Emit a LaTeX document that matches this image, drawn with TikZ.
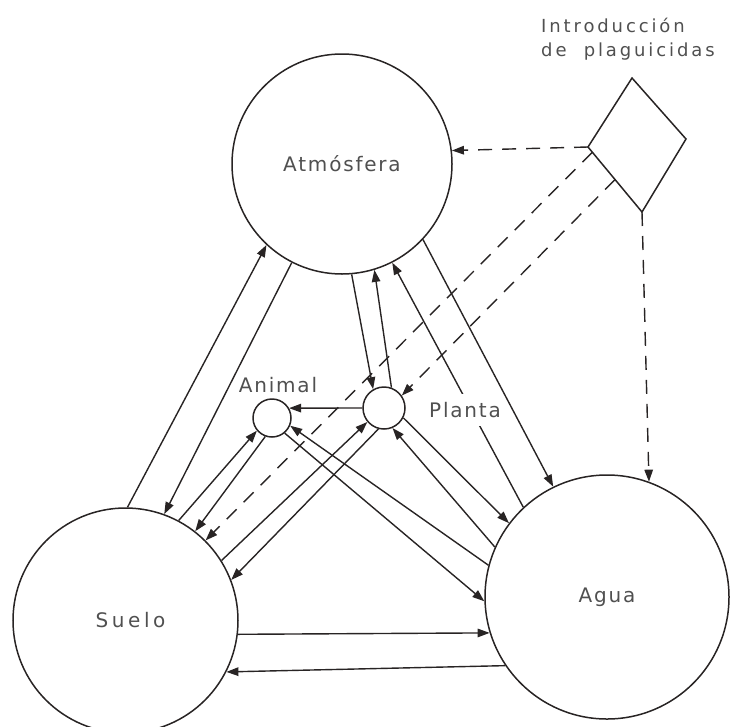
\documentclass[tikz,border=0pt]{standalone}
\usepackage{fontspec}
\setmainfont{DejaVu Sans}
\newfontfamily\lblfont{DejaVu Sans}[LetterSpace=9]
\newfontfamily\widefont{DejaVu Sans}[LetterSpace=18]
\newfontfamily\introfont{DejaVu Sans}[LetterSpace=16]
\usetikzlibrary{arrows.meta,calc}
\definecolor{ink}{RGB}{40,36,36}
\definecolor{txt}{RGB}{80,80,80}
\begin{document}
\begin{tikzpicture}[x=1pt,y=-1pt,
 big/.style={circle,draw=ink,line width=1.5pt,inner sep=0pt,text=txt,font=\lblfont\fontsize{20}{22}\selectfont},
 small/.style={circle,draw=ink,line width=1.5pt,inner sep=0pt},
 lbl/.style={text=txt,font=\lblfont\fontsize{20}{22}\selectfont,inner sep=0pt},
 flow/.style={draw=ink,line width=1.4pt,-{Triangle[length=12pt,width=8.5pt]}},
 dflow/.style={flow,dash pattern=on 14pt off 10pt}]
\useasboundingbox (0,0) rectangle (730,726);
\node[big,minimum size=220pt] (atm) at (342,164) {Atmósfera};
\node[big,minimum size=225pt,font=\widefont\fontsize{20}{22}\selectfont] (suelo) at (125.5,620.5) {\hspace{10pt}Suelo};
\node[big,minimum size=244pt] (agua) at (607,597) {Agua};
\node[small,minimum size=38pt] (animal) at (272,418) {};
\node[small,minimum size=42pt] (planta) at (384,408) {};
\coordinate (dt) at (632,78);
\coordinate (dr) at (686,139);
\coordinate (db) at (642,212);
\coordinate (dl) at (588,147);
\draw[ink,line width=1.5pt] (dt)--(dr)--(db)--(dl)--cycle;
\coordinate (d1) at ($(dl)!0.08!(db)$);
\coordinate (d2) at ($(dl)!0.5!(db)$);
% solid flows
\draw[flow] (suelo.89) -- (atm.227);
\draw[flow] (atm.243) -- (suelo.70);
\draw[flow] (atm.275) -- (planta.120);
\draw[flow] (planta.70) -- (atm.287);
\draw[flow] (agua.133) -- (atm.297);
\draw[flow] (atm.317) -- (agua.116);
\draw[flow] (planta.333) -- (agua.143);
\draw[flow] (agua.156) -- (planta.293);
\draw[flow] (animal.310) -- (agua.182);
\draw[flow] (agua.165) -- (animal.337);
\draw[flow] (planta.180) -- (animal.30);
\draw[flow] (suelo.62) -- (animal.220);
\draw[flow] (animal.250) -- (suelo.52);
\draw[flow] (suelo.32) -- (planta.220);
\draw[flow] (planta.255) -- (suelo.21);
\draw[flow] (suelo.353) -- (agua.197);
\draw[flow] (agua.214) -- (suelo.333);
% dashed flows from the pesticide input
\draw[dflow] (dl) -- (atm.7);
\draw[dflow] (db) -- (agua.70);
\draw[dflow] (d1) -- (suelo.45);
\draw[dflow] (d2) -- (planta.35);
% labels
\node[lbl] (animallbl) at (278,385) {Animal};
\node[lbl,fill=white,inner xsep=2pt,inner ysep=8pt] (plantalbl) at (465,410) {Planta};
\node[text=txt,font=\introfont\fontsize{18}{24}\selectfont,align=left,anchor=north west,inner sep=0pt] (intro) at (541,18) {Introducción\\de\ \ plaguicidas};
\end{tikzpicture}
\end{document}
